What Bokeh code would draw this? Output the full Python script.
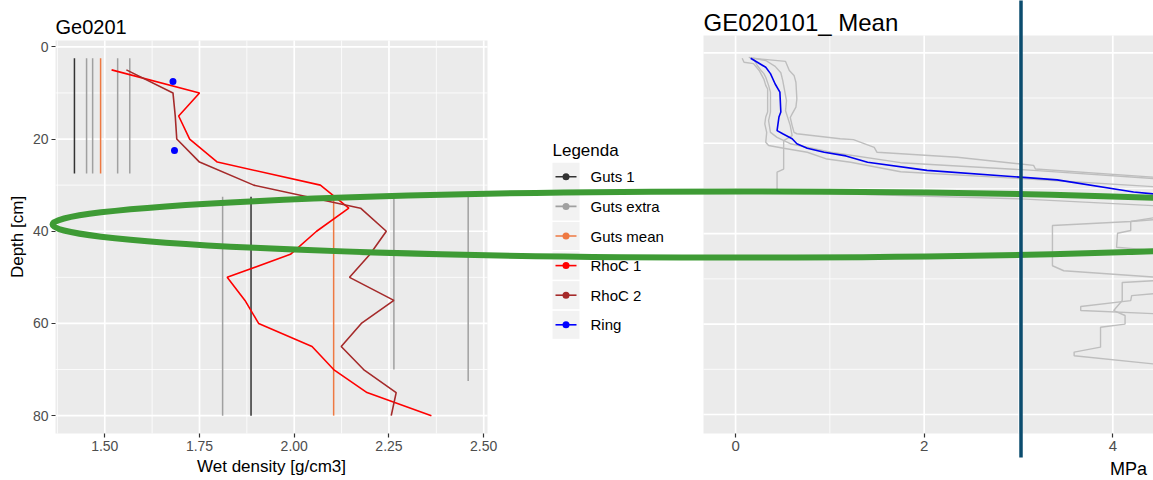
from bokeh.plotting import figure
from bokeh.models import Range1d, LinearAxis, FixedTicker, NumeralTickFormatter, BasicTickFormatter
from bokeh.core.properties import value
from bokeh.embed import file_html
from bokeh.resources import INLINE

# ---------------- left chart: Ge0201 (wet density vs depth) ----------------
DEPTH_RHOC = [5, 10, 15, 20, 25, 30, 35, 40, 45, 50, 55, 60, 65, 70, 75, 80]
RHOC1 = [1.518, 1.750, 1.695, 1.724, 1.797, 2.069, 2.144, 2.059, 1.990, 1.823,
         1.870, 1.906, 2.047, 2.104, 2.192, 2.362]
RHOC2 = [1.557, 1.680, 1.686, 1.690, 1.750, 1.893, 2.175, 2.243, 2.200, 2.146,
         2.263, 2.177, 2.124, 2.183, 2.269, 2.256]
RING_X = [1.680, 1.684]
RING_DEPTH = [7.5, 22.5]
GUTS1_X = [1.420, 1.886]
GUTS1_TOP = [2.5, 32.5]
GUTS1_BOT = [27.5, 80.0]
GUTSX_X = [1.452, 1.468, 1.534, 1.566, 1.811, 2.263, 2.459]
GUTSX_TOP = [2.5, 2.5, 2.5, 2.5, 32.5, 32.5, 32.5]
GUTSX_BOT = [27.5, 27.5, 27.5, 27.5, 80.0, 70.0, 72.5]
GUTSM_X = [1.489, 2.104]
GUTSM_TOP = [2.5, 32.5]
GUTSM_BOT = [27.5, 80.0]

L_XTICKS = [1.50, 1.75, 2.00, 2.25, 2.50]
L_XMINOR = [1.375, 1.625, 1.875, 2.125, 2.375]
L_YTICKS = [0, 20, 40, 60, 80]
L_YMINOR = [10, 30, 50, 70]

LEGEND_LABELS = ["Guts 1", "Guts extra", "Guts mean", "RhoC 1", "RhoC 2", "Ring"]
LEGEND_COLORS = ["#333333", "#A0A0A0", "#EE7942", "#FF0000", "#A52A2A", "#0000FF"]

# ---------------- right chart: GE020101_ Mean (MPa vs depth) ----------------
MEAN_MPA = [0.16, 0.32, 0.37, 0.42, 0.47, 0.48, 0.46, 0.44, 0.50, 0.60, 0.65, 0.76,
            0.94, 1.17, 1.40, 2.03, 3.02, 3.41, 4.22, 4.43, 4.80]
MEAN_DEPTH = [1.2, 3.2, 4.6, 6.9, 8.7, 13.1, 14.2, 17.2, 17.9, 19.0, 20.1, 21.1,
              22.0, 22.8, 24.2, 26.0, 27.5, 28.1, 30.8, 31.2, 32.0]

P1_MPA = [0.18, 0.53, 0.57, 0.62, 0.64, 0.65, 0.64, 0.60, 0.58, 0.60, 0.62, 0.65, 1.11,
          1.25, 1.47, 1.50, 2.35, 3.16, 3.18, 4.43, 5.50, 5.50, 4.43, 4.19, 3.36, 3.36,
          3.48, 4.43, 5.50]
P1_DEPTH = [1.2, 1.9, 3.9, 5.0, 6.5, 10.2, 12.0, 13.5, 14.3, 16.1, 17.6, 17.9, 19.0,
            19.2, 20.9, 22.0, 23.1, 24.9, 25.7, 27.5, 29.0, 36.0, 36.9, 37.3, 38.2, 47.1,
            48.2, 49.6, 51.0]
P2_MPA = [0.07, 0.09, 0.19, 0.25, 0.30, 0.32, 0.34, 0.34, 0.32, 0.31, 0.33, 0.32, 0.35,
          0.51, 0.76, 0.97, 1.22, 1.75, 3.02, 4.43, 5.50, 5.50, 4.43, 4.19, 4.19, 4.05,
          4.04, 4.43, 5.50]
P2_DEPTH = [1.2, 2.1, 2.4, 3.9, 5.8, 7.2, 8.0, 13.1, 14.2, 15.7, 17.6, 19.8, 20.5,
            21.1, 22.0, 23.5, 24.2, 26.3, 27.8, 29.6, 31.0, 36.0, 36.5, 37.3, 39.3, 39.9,
            43.0, 43.7, 44.5]
P3_MPA = [0.19, 0.23, 0.27, 0.30, 0.32, 0.35, 0.37, 0.37, 0.35, 0.37, 0.44, 0.58, 1.01,
          1.75, 3.16, 4.43, 5.50, 5.50, 4.43, 4.20, 4.19, 3.66, 3.66, 4.43, 5.50]
P3_DEPTH = [1.3, 2.8, 3.9, 4.6, 5.4, 7.2, 8.7, 13.1, 15.0, 17.6, 18.7, 20.1, 22.0,
            24.3, 26.0, 27.8, 29.5, 53.0, 53.3, 53.7, 54.8, 56.1, 57.0, 57.7, 58.5]
P4_MPA = [0.14, 0.32, 0.42, 0.48, 0.50, 0.54, 0.53, 0.58, 0.60, 0.51, 0.51, 0.44, 0.44,
          1.11, 3.02, 4.43, 5.50, 5.50, 4.43, 4.10, 4.10, 4.01, 4.13, 4.13, 3.87, 3.87,
          3.59, 3.59, 4.43, 5.50]
P4_DEPTH = [1.0, 1.7, 3.0, 4.4, 6.1, 10.6, 12.8, 16.1, 18.3, 19.4, 25.7, 26.4, 30.8,
            31.2, 32.3, 33.8, 34.5, 50.0, 50.4, 50.8, 54.8, 57.0, 58.1, 60.0, 60.7, 65.1,
            66.2, 67.0, 68.8, 69.5]
PROFILES = [(P1_MPA, P1_DEPTH), (P2_MPA, P2_DEPTH), (P3_MPA, P3_DEPTH), (P4_MPA, P4_DEPTH)]

R_XTICKS = [0, 2, 4]
R_XMINOR = [1, 3]
R_YTICKS = [0, 20, 40, 60, 80]
R_YMINOR = [10, 30, 50, 70]

# ---------------- layout (page pixels) ----------------
W, H = 1153, 480
FONT = "Liberation Sans"
L_PX, L_X = (55, 487), (1.37, 2.51)
L_PY, L_Y = (40, 433), (-1.375, 83.875)
R_PX, R_X = (703, 1112.3), (-0.34, 4.0)
R_PY, R_Y = (35, 433), (-3.83, 84.2)
R_XEND = 6.0


def x_page_range(px, vals):
    k = (vals[1] - vals[0]) / (px[1] - px[0])
    v0 = vals[0] - px[0] * k
    return Range1d(v0, v0 + W * k)


def y_page_range(py, vals):
    k = (vals[1] - vals[0]) / (py[1] - py[0])
    v0 = vals[0] - py[0] * k          # value at page top
    return Range1d(v0 + H * k, v0)    # start = bottom of canvas


p = figure(width=W, height=H, x_range=Range1d(0, W), y_range=Range1d(H, 0),
           x_axis_type=None, y_axis_type=None, output_backend="svg",
           toolbar_location=None, min_border=0, outline_line_color=None,
           background_fill_color="white", border_fill_color="white")
p.extra_x_ranges = {"dens": x_page_range(L_PX, L_X), "mpa": x_page_range(R_PX, R_X)}
p.extra_y_ranges = {"depL": y_page_range(L_PY, L_Y), "depR": y_page_range(R_PY, R_Y)}

LK = dict(x_range_name="dens", y_range_name="depL")
RK = dict(x_range_name="mpa", y_range_name="depR")

# ---- left panel ----
p.quad(left=[L_X[0]], right=[L_X[1]], top=[L_Y[0]], bottom=[L_Y[1]],
       fill_color="#EBEBEB", line_color=None, **LK)
for xs, lw in ((L_XMINOR, 0.8), (L_XTICKS, 1.7)):
    p.segment(x0=xs, x1=xs, y0=[L_Y[0]] * len(xs), y1=[L_Y[1]] * len(xs),
              line_color="white", line_width=lw, **LK)
for ys, lw in ((L_YMINOR, 0.8), (L_YTICKS, 1.7)):
    p.segment(x0=[L_X[0]] * len(ys), x1=[L_X[1]] * len(ys), y0=ys, y1=ys,
              line_color="white", line_width=lw, **LK)

p.segment(x0=GUTSX_X, x1=GUTSX_X, y0=GUTSX_TOP, y1=GUTSX_BOT, line_color=LEGEND_COLORS[1], line_width=1.5, **LK)
p.segment(x0=GUTS1_X, x1=GUTS1_X, y0=GUTS1_TOP, y1=GUTS1_BOT, line_color=LEGEND_COLORS[0], line_width=1.5, **LK)
p.segment(x0=GUTSM_X, x1=GUTSM_X, y0=GUTSM_TOP, y1=GUTSM_BOT, line_color=LEGEND_COLORS[2], line_width=1.5, **LK)
p.line(RHOC1, DEPTH_RHOC, line_color=LEGEND_COLORS[3], line_width=1.6, **LK)
p.line(RHOC2, DEPTH_RHOC, line_color=LEGEND_COLORS[4], line_width=1.6, **LK)
p.scatter(RING_X, RING_DEPTH, size=7, fill_color=LEGEND_COLORS[5], line_color=None, **LK)


def style_axis(ax, size="14px"):
    ax.axis_line_color = None
    ax.major_tick_line_color = "#333333"
    ax.major_tick_line_width = 1.2
    ax.major_tick_in = 0
    ax.major_tick_out = 4
    ax.minor_tick_line_color = None
    ax.major_label_text_color = "#4D4D4D"
    ax.major_label_text_font = FONT
    ax.major_label_text_font_size = size
    ax.major_label_standoff = 3
    ax.axis_label_text_font = FONT
    ax.axis_label_text_font_style = "normal"
    ax.axis_label_text_font_size = "17px"
    ax.axis_label_text_color = "black"
    ax.axis_label_standoff = 3


ax_lx = LinearAxis(fixed_location=L_Y[1], bounds=L_X, ticker=FixedTicker(ticks=L_XTICKS),
                   formatter=NumeralTickFormatter(format="0.00"),
                   axis_label="Wet density [g/cm3]", **LK)
style_axis(ax_lx)
p.add_layout(ax_lx, "below")

ax_ly = LinearAxis(fixed_location=L_X[0], bounds=L_Y, ticker=FixedTicker(ticks=L_YTICKS),
                   formatter=BasicTickFormatter(), axis_label="Depth [cm]", **LK)
style_axis(ax_ly)
p.add_layout(ax_ly, "left")

p.text(x=[L_PX[0]], y=[26.5], text=["Ge0201"], text_font=value(FONT),
       text_font_size="20px", text_color="black", text_baseline="alphabetic")

# ---- legend ----
LEG_X0, LEG_Y0, LEG_STEP = 552, 176.3, 29.6
rows = [LEG_Y0 + i * LEG_STEP for i in range(len(LEGEND_LABELS))]
p.text(x=[LEG_X0], y=[150], text=["Legenda"], text_font=value(FONT), text_font_size="17px",
       text_color="black", text_baseline="alphabetic")
p.rect(x=[LEG_X0 + 13.5] * len(rows), y=rows, width=27, height=28,
       fill_color="#F2F2F2", line_color=None)
p.segment(x0=[LEG_X0 + 3] * len(rows), x1=[LEG_X0 + 24] * len(rows), y0=rows, y1=rows,
          line_color=LEGEND_COLORS, line_width=1.6)
p.scatter(x=[LEG_X0 + 13.5] * len(rows), y=rows, size=7, fill_color=LEGEND_COLORS, line_color=None)
p.text(x=[LEG_X0 + 38] * len(rows), y=rows, text=LEGEND_LABELS, text_font=value(FONT),
       text_font_size="15px", text_color="black", text_baseline="middle")

# ---- right panel ----
p.quad(left=[R_X[0]], right=[R_XEND], top=[R_Y[0]], bottom=[R_Y[1]],
       fill_color="#EBEBEB", line_color=None, **RK)
for xs, lw in ((R_XMINOR, 0.8), (R_XTICKS, 1.7)):
    p.segment(x0=xs, x1=xs, y0=[R_Y[0]] * len(xs), y1=[R_Y[1]] * len(xs),
              line_color="white", line_width=lw, **RK)
for ys, lw in ((R_YMINOR, 0.8), (R_YTICKS, 1.7)):
    p.segment(x0=[R_X[0]] * len(ys), x1=[R_XEND] * len(ys), y0=ys, y1=ys,
              line_color="white", line_width=lw, **RK)
for mp, dp in PROFILES:
    p.line(mp, dp, line_color="#BEBEBE", line_width=1.4, **RK)
p.line(MEAN_MPA, MEAN_DEPTH, line_color="#0000F0", line_width=1.6, **RK)

ax_rx = LinearAxis(fixed_location=R_Y[1], bounds=(R_X[0], R_XEND), ticker=FixedTicker(ticks=R_XTICKS),
                   formatter=BasicTickFormatter(), **RK)
style_axis(ax_rx, size="15px")
p.add_layout(ax_rx, "below")
# axis title of the (cropped) right panel, centred on its full width
p.text(x=[1128], y=[468], text=["MPa"], text_font=value(FONT), text_font_size="18px",
       text_color="black", text_align="center", text_baseline="middle")

p.text(x=[R_PX[0]], y=[21.7], text=["GE020101_ Mean"], text_font=value(FONT),
       text_font_size="24px", text_color="black", text_baseline="alphabetic")

# ---- annotations drawn over the charts ----
p.ellipse(x=[743], y=[224], width=[1382], height=[66], fill_color=None,
          line_color="#3E9B35", line_width=6, level="overlay")
p.segment(x0=[1020.5], x1=[1020.5], y0=[0], y1=[457], line_color="#0B4C6E",
          line_width=3.5, level="overlay")

open("out.html", "w").write(file_html(p, INLINE))
